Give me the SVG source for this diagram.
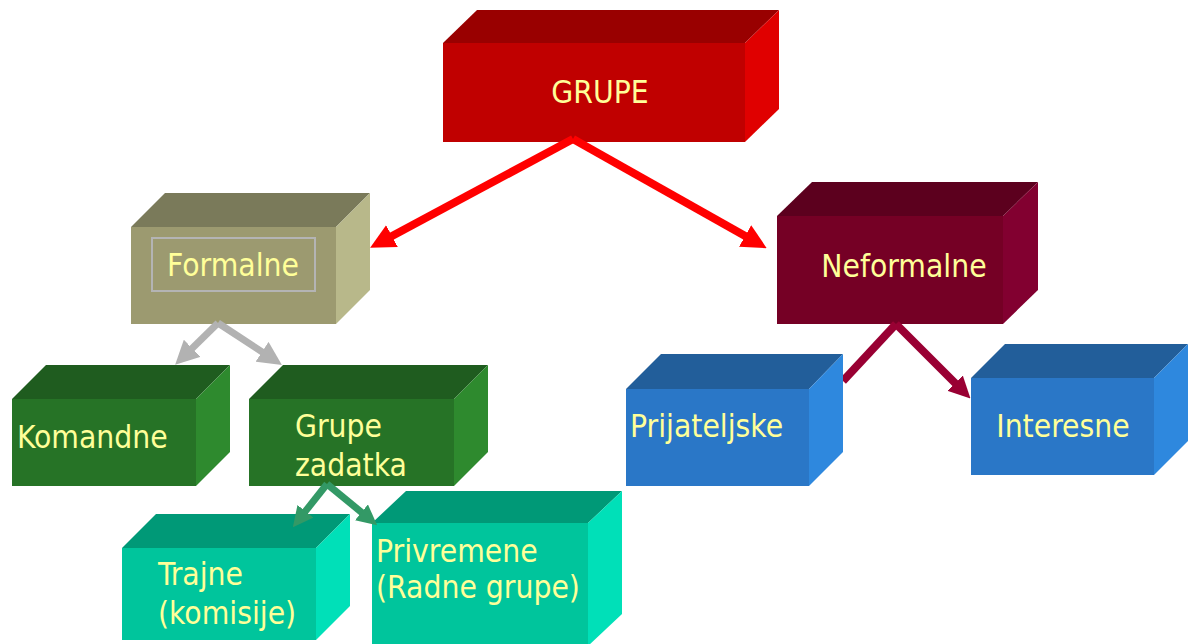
<svg xmlns="http://www.w3.org/2000/svg" width="1188" height="644" viewBox="0 0 1188 644">
<style>
text{font-family:"DejaVu Sans Condensed","DejaVu Sans",sans-serif;font-stretch:condensed;font-size:31.5px;fill:#ffff99}
.c{text-anchor:middle}
.red .f{fill:#c00000}.red .t{fill:#990000}.red .s{fill:#e00000}
.olv .f{fill:#9c9a70}.olv .t{fill:#7a7a5a}.olv .s{fill:#b8b88a}
.mar .f{fill:#750025}.mar .t{fill:#5c001e}.mar .s{fill:#820030}
.grn .f{fill:#267326}.grn .t{fill:#1f5c1f}.grn .s{fill:#2e8a2e}
.tea .f{fill:#00c59c}.tea .t{fill:#009977}.tea .s{fill:#00e0b8}
.blu .f{fill:#2a77c7}.blu .t{fill:#225e9a}.blu .s{fill:#2e88de}
.ln{fill:none;stroke-width:8}
</style>
<defs>
<marker id="ar" viewBox="0 0 4 4" refX="1" refY="2" markerWidth="3.1" markerHeight="3.1" markerUnits="strokeWidth" orient="auto"><path d="M0,0L4,2L0,4z" fill="#ff0000"/></marker>
<marker id="ag" viewBox="0 0 4 4" refX="1" refY="2" markerWidth="3.4" markerHeight="3.4" markerUnits="strokeWidth" orient="auto"><path d="M0,0L4,2L0,4z" fill="#b2b2b2"/></marker>
<marker id="aw" viewBox="0 0 4 4" refX="1" refY="2" markerWidth="2.9" markerHeight="2.9" markerUnits="strokeWidth" orient="auto"><path d="M0,0L4,2L0,4z" fill="#339966"/></marker>
<marker id="am" viewBox="0 0 4 4" refX="1" refY="2" markerWidth="2.7" markerHeight="2.7" markerUnits="strokeWidth" orient="auto"><path d="M0,0L4,2L0,4z" fill="#990033"/></marker>
</defs>
<g id="grupe" class="red">
<polygon class="t" points="443,43 477,10 779,10 745,43"/>
<polygon class="s" points="745,43 779,10 779,109 745,142"/>
<rect class="f" x="443" y="43" width="302" height="99"/>
<text class="c" x="600" y="103">GRUPE</text>
</g>
<g id="formalne" class="olv">
<polygon class="t" points="131,227 165,193 370,193 336,227"/>
<polygon class="s" points="336,227 370,193 370,290 336,324"/>
<rect class="f" x="131" y="227" width="205" height="97"/>
<rect x="152" y="238" width="163" height="53" fill="none" stroke="#b4b4b4" stroke-width="2"/>
<text class="c" x="233" y="276">Formalne</text>
</g>
<g id="neformalne" class="mar">
<polygon class="t" points="777,216 812,182 1038,182 1003,216"/>
<polygon class="s" points="1003,216 1038,182 1038,290 1003,324"/>
<rect class="f" x="777" y="216" width="226" height="108"/>
<text class="c" x="904" y="277">Neformalne</text>
</g>
<g id="komandne" class="grn">
<polygon class="t" points="12,399 46,365 230,365 196,399"/>
<polygon class="s" points="196,399 230,365 230,452 196,486"/>
<rect class="f" x="12" y="399" width="184" height="87"/>
<text x="17" y="448">Komandne</text>
</g>
<g id="grupe-zadatka" class="grn">
<polygon class="t" points="249,399 283,365 488,365 454,399"/>
<polygon class="s" points="454,399 488,365 488,452 454,486"/>
<rect class="f" x="249" y="399" width="205" height="87"/>
<text x="295" y="437">Grupe</text>
<text x="295" y="476">zadatka</text>
</g>
<g id="trajne" class="tea">
<polygon class="t" points="122,548 156,514 350,514 316,548"/>
<polygon class="s" points="316,548 350,514 350,606 316,640"/>
<rect class="f" x="122" y="548" width="194" height="92"/>
<text x="158" y="585">Trajne</text>
<text x="158" y="624">(komisije)</text>
</g>
<g id="privremene" class="tea">
<polygon class="t" points="372,523 406,491 622,491 588,523"/>
<polygon class="s" points="588,523 622,491 622,614 588,646"/>
<rect class="f" x="372" y="523" width="216" height="123"/>
<text x="376" y="562">Privremene</text>
<text x="376" y="598">(Radne grupe)</text>
</g>
<g id="connectors">
<path class="ln" stroke="#ff0000" d="M573,139L386.5,239" marker-end="url(#ar)"/>
<path class="ln" stroke="#ff0000" d="M573,139L750.5,239" marker-end="url(#ar)"/>
<path class="ln" stroke="#b2b2b2" style="stroke-width:7" d="M218,323L187.9,352.4" marker-end="url(#ag)"/>
<path class="ln" stroke="#b2b2b2" style="stroke-width:7" d="M218,323L267,355.1" marker-end="url(#ag)"/>
<path class="ln" stroke="#339966" style="stroke-width:7" d="M327,484L302.3,515.2" marker-end="url(#aw)"/>
<path class="ln" stroke="#339966" style="stroke-width:7" d="M327,484L365.4,515.5" marker-end="url(#aw)"/>
<path class="ln" stroke="#990033" d="M896,324L843,381"/>
<path class="ln" stroke="#990033" d="M896,324L959,387" marker-end="url(#am)"/>
</g>
<g id="prijateljske" class="blu">
<polygon class="t" points="626,389 661,354 843,354 809,389"/>
<polygon class="s" points="809,389 843,354 843,452 809,486"/>
<rect class="f" x="626" y="389" width="183" height="97"/>
<text x="630" y="437">Prijateljske</text>
</g>
<g id="interesne" class="blu">
<polygon class="t" points="971,378 1005,344 1188,344 1154,378"/>
<polygon class="s" points="1154,378 1188,344 1188,441 1154,475"/>
<rect class="f" x="971" y="378" width="183" height="97"/>
<text class="c" x="1063" y="437">Interesne</text>
</g>
</svg>
